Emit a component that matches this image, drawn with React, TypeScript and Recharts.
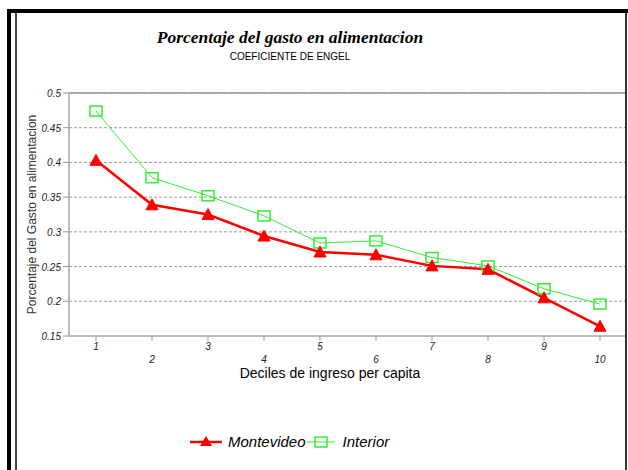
import React from "react";
import { LineChart, Line, XAxis, YAxis, CartesianGrid, ReferenceLine } from "recharts";

const deciles = ["1", "2", "3", "4", "5", "6", "7", "8", "9", "10"];
const montevideo = [0.403, 0.339, 0.325, 0.294, 0.271, 0.267, 0.251, 0.246, 0.205, 0.164];
const interior = [0.474, 0.378, 0.352, 0.323, 0.284, 0.287, 0.263, 0.251, 0.218, 0.196];
const yTicks = [0.15, 0.2, 0.25, 0.3, 0.35, 0.4, 0.45, 0.5];

const data = deciles.map((d, i) => ({ decil: d, Montevideo: montevideo[i], Interior: interior[i] }));

const SANS = "'Liberation Sans', Arial, sans-serif";
const RED = "#ff0000";
const GREEN = "#33ee33";

const Triangle = (props: any) => {
  const { cx, cy, index } = props;
  if (cx == null || cy == null) return <g key={index} />;
  return (
    <polygon
      key={index}
      points={`${cx},${cy - 6} ${cx - 6},${cy + 5} ${cx + 6},${cy + 5}`}
      fill={RED}
      stroke={RED}
      strokeWidth={1}
    />
  );
};

const Square = (props: any) => {
  const { cx, cy, index } = props;
  if (cx == null || cy == null) return <g key={index} />;
  return <rect key={index} x={cx - 6} y={cy - 5} width={12} height={10} fill="none" stroke={GREEN} strokeWidth={1.5} />;
};

const XTick = (props: any) => {
  const { x, y, payload, index } = props;
  const dy = index % 2 === 0 ? 7 : 20;
  return (
    <text x={x} y={y + dy} textAnchor="middle" fontFamily={SANS} fontSize={10} fontStyle="italic" fill="#222">
      {payload.value}
    </text>
  );
};

const YTick = (props: any) => {
  const { x, y, payload } = props;
  return (
    <text x={x} y={y + 4} textAnchor="end" fontFamily={SANS} fontSize={10} fontStyle="italic" fill="#222">
      {String(payload.value)}
    </text>
  );
};

const LegendBox = () => (
  <div style={{ position: "absolute", left: 189, top: 433, display: "flex", alignItems: "center", fontFamily: SANS, fontSize: 15, fontStyle: "italic", color: "#000", whiteSpace: "nowrap" }}>
    <svg width={34} height={16}>
      <line x1={1} y1={8} x2={33} y2={8} stroke={RED} strokeWidth={2.5} />
      <polygon points="17,2 11,12 23,12" fill={RED} />
    </svg>
    <span style={{ marginLeft: 5 }}>Montevideo</span>
    <svg width={30} height={16} style={{ marginLeft: 0 }}>
      <line x1={1} y1={8} x2={29} y2={8} stroke={GREEN} strokeWidth={1} />
      <rect x={9} y={3} width={12} height={10} fill="none" stroke={GREEN} strokeWidth={1.5} />
    </svg>
    <span style={{ marginLeft: 7 }}>Interior</span>
  </div>
);

export default function App() {
  return (
    <div style={{ position: "absolute", left: 0, top: 0, width: 628, height: 470, background: "#fff", overflow: "hidden" }}>
      {/* frame */}
      <div style={{ position: "absolute", left: 7, top: 9, width: 621, height: 4, background: "#000" }} />
      <div style={{ position: "absolute", left: 7, top: 9, width: 4, height: 470, background: "#000" }} />
      <div style={{ position: "absolute", left: 15, top: 13, width: 1.5, height: 470, background: "#444" }} />
      <div style={{ position: "absolute", left: 625, top: 13, width: 2, height: 470, background: "#333" }} />
      {/* titles */}
      <div style={{ position: "absolute", left: 90, width: 400, top: 27, textAlign: "center", fontFamily: "'Liberation Serif', 'Times New Roman', serif", fontWeight: "bold", fontStyle: "italic", fontSize: 17.5, color: "#000" }}>
        Porcentaje del gasto en alimentacion
      </div>
      <div style={{ position: "absolute", left: 90, width: 400, top: 51, textAlign: "center", fontFamily: SANS, fontSize: 10, color: "#000" }}>
        COEFICIENTE DE ENGEL
      </div>
      <div style={{ position: "absolute", left: 0, top: 0 }}>
        <LineChart width={628} height={470} data={data} margin={{ top: 93, right: 3, left: 9, bottom: 104 }}>
          <CartesianGrid vertical={false} horizontal={true} stroke="#999" strokeDasharray="3 2" />
          <ReferenceLine y={0.5} stroke="#999" strokeWidth={1.5} />
          <XAxis
            dataKey="decil"
            height={30}
            padding={{ left: 27, right: 25 }}
            tick={<XTick />}
            tickLine={{ stroke: "#999" }}
            tickSize={5}
            axisLine={{ stroke: "#bbb", strokeWidth: 2 }}
            interval={0}
          />
          <YAxis
            width={60}
            domain={[0.15, 0.5]}
            ticks={yTicks}
            type="number"
            allowDataOverflow
            tick={<YTick />}
            tickLine={{ stroke: "#999" }}
            tickSize={6}
            axisLine={{ stroke: "#bbb", strokeWidth: 2 }}
            label={{ value: "Porcentaje del Gasto en alimentacion", angle: -90, position: "insideLeft", offset: 23, style: { fontFamily: SANS, fontSize: 12, fill: "#333", textAnchor: "middle" } }}
          />
          <Line type="linear" dataKey="Interior" stroke={GREEN} strokeWidth={1} dot={<Square />} isAnimationActive={false} />
          <Line type="linear" dataKey="Montevideo" stroke={RED} strokeWidth={2.5} dot={<Triangle />} isAnimationActive={false} />
        </LineChart>
      </div>
      <div style={{ position: "absolute", left: 130, width: 400, top: 365, textAlign: "center", fontFamily: SANS, fontSize: 14, color: "#000" }}>
        Deciles de ingreso per capita
      </div>
      <LegendBox />
    </div>
  );
}
